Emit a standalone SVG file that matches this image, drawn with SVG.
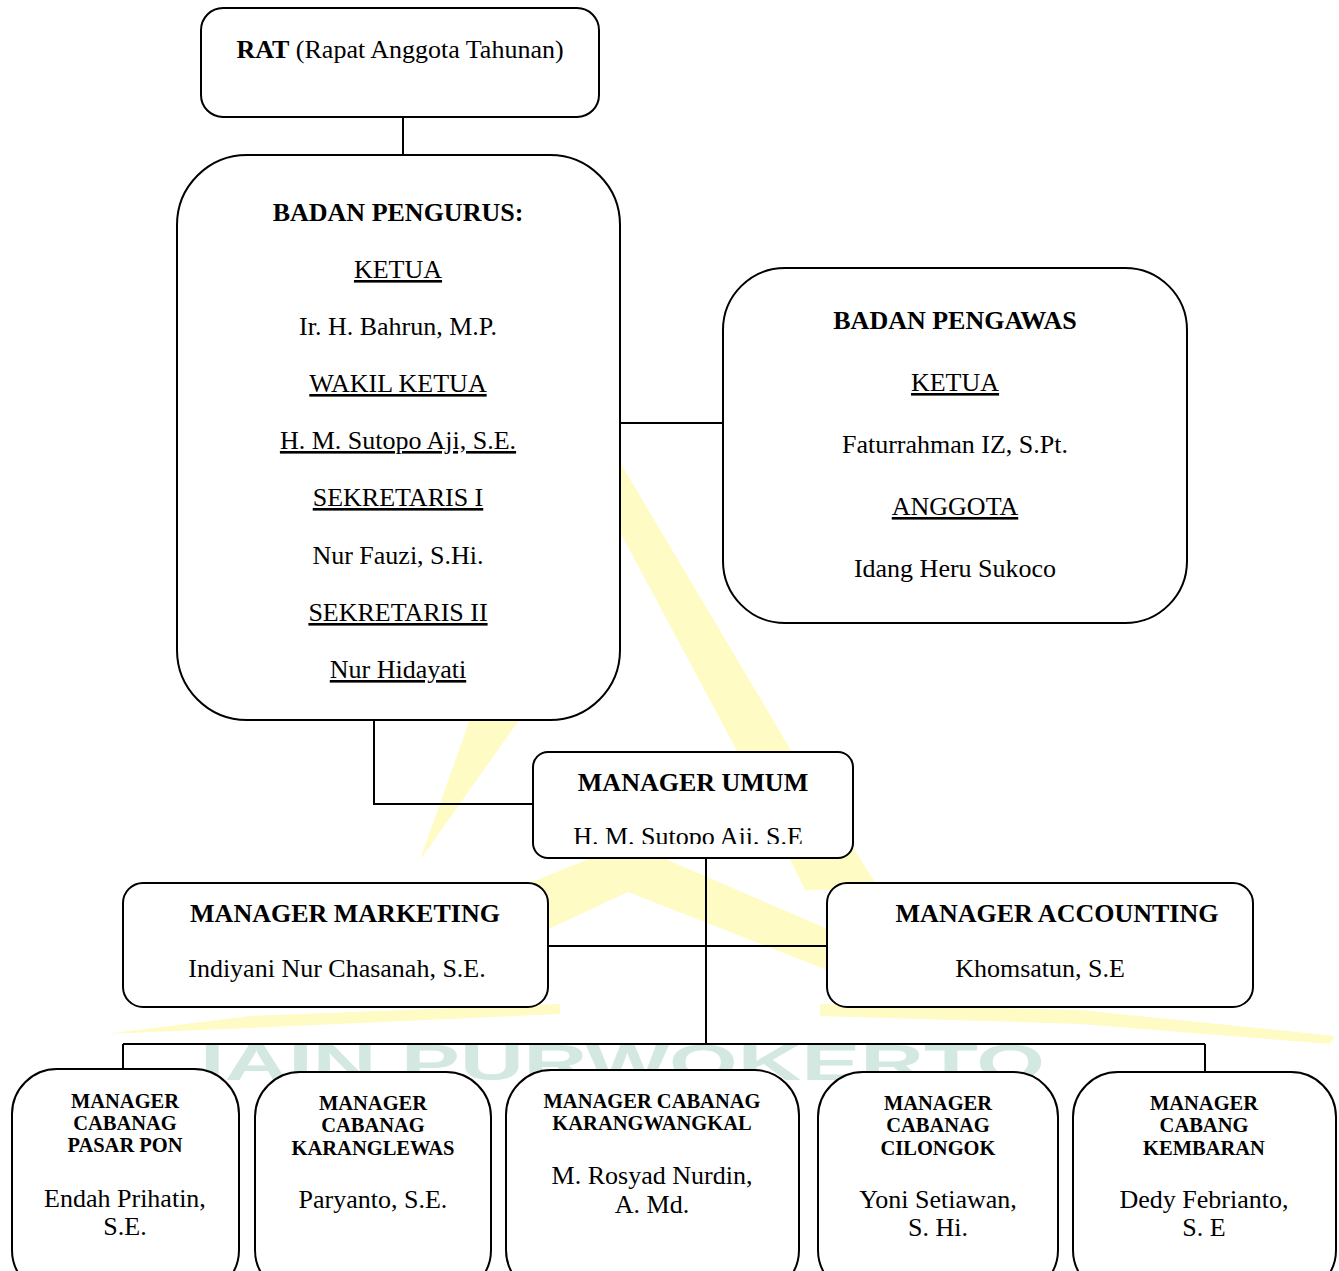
<svg xmlns="http://www.w3.org/2000/svg" width="1339" height="1271" viewBox="0 0 1339 1271">
<style>
.box{fill:#fff;stroke:#000;stroke-width:2}
.ln{fill:none;stroke:#000;stroke-width:2}
.t{font-family:"Liberation Serif","Times New Roman",serif;font-size:26px;text-anchor:middle;fill:#000}
.b{font-weight:bold}
.u{text-decoration:underline}
.s{font-size:20.5px;font-weight:bold}
.wm{fill:#fffbc4}
.wt{font-family:"Liberation Sans",Arial,sans-serif;font-weight:bold;font-size:50px;fill:#d3e8e0}
</style>
<defs>
<clipPath id="umumClip"><rect x="533" y="752" width="320" height="92"/></clipPath>
</defs>
<rect width="1339" height="1271" fill="#fff"/>
<g id="watermark">
<polygon class="wm" points="560,420 595,420 789,747 880,890 805,890 735,747"/>
<polygon class="wm" points="505,620 590,620 420,860"/>
<polygon class="wm" points="340,960 628,843 900,960 840,975 628,892 450,975"/>
<polygon class="wm" points="105,1034 250,1016 560,1004 560,1014 250,1028"/>
<polygon class="wm" points="820,1004 1080,1010 1335,1036 1330,1044 1080,1024 820,1016"/>
<text class="wt" x="200" y="1080" textLength="845" lengthAdjust="spacingAndGlyphs">IAIN PURWOKERTO</text>
</g>
<g id="connectors">
<path class="ln" d="M403 117V155"/>
<path class="ln" d="M620 423H723"/>
<path class="ln" d="M374 720V804H533"/>
<path class="ln" d="M706 858V1044"/>
<path class="ln" d="M548 946H827"/>
<path class="ln" d="M123 1044H1205"/>
<path class="ln" d="M123 1044V1070"/>
<path class="ln" d="M1205 1044V1072"/>
</g>
<g id="rat">
<rect class="box" x="201" y="8" width="398" height="109" rx="22"/>
<text class="t" x="400" y="58"><tspan class="b">RAT</tspan> (Rapat Anggota Tahunan)</text>
</g>
<g id="badan-pengurus">
<rect class="box" x="177" y="155" width="443" height="565" rx="70"/>
<text class="t b" x="398" y="221">BADAN PENGURUS:</text>
<text class="t u" x="398" y="278">KETUA</text>
<text class="t" x="398" y="335">Ir. H. Bahrun, M.P.</text>
<text class="t u" x="398" y="392">WAKIL KETUA</text>
<text class="t u" x="398" y="449">H. M. Sutopo Aji, S.E.</text>
<text class="t u" x="398" y="506">SEKRETARIS I</text>
<text class="t" x="398" y="564">Nur Fauzi, S.Hi.</text>
<text class="t u" x="398" y="621">SEKRETARIS II</text>
<text class="t u" x="398" y="678">Nur Hidayati</text>
</g>
<g id="badan-pengawas">
<rect class="box" x="723" y="268" width="464" height="355" rx="62"/>
<text class="t b" x="955" y="329">BADAN PENGAWAS</text>
<text class="t u" x="955" y="391">KETUA</text>
<text class="t" x="955" y="453">Faturrahman IZ, S.Pt.</text>
<text class="t u" x="955" y="515">ANGGOTA</text>
<text class="t" x="955" y="577">Idang Heru Sukoco</text>
</g>
<g id="manager-umum">
<rect class="box" x="533" y="752" width="320" height="106" rx="15"/>
<text class="t b" x="693" y="791">MANAGER UMUM</text>
<text class="t" x="688" y="845" clip-path="url(#umumClip)">H. M. Sutopo Aji, S.E</text>
</g>
<g id="manager-marketing">
<rect class="box" x="123" y="883" width="425" height="124" rx="20"/>
<text class="t b" x="345" y="922">MANAGER MARKETING</text>
<text class="t" x="337" y="977">Indiyani Nur Chasanah, S.E.</text>
</g>
<g id="manager-accounting">
<rect class="box" x="827" y="883" width="426" height="124" rx="20"/>
<text class="t b" x="1057" y="922">MANAGER ACCOUNTING</text>
<text class="t" x="1040" y="977">Khomsatun, S.E</text>
</g>
<g id="cabang-pasar-pon">
<rect class="box" x="12" y="1069" width="227" height="226" rx="45"/>
<text class="t s" x="125" y="1108">MANAGER</text>
<text class="t s" x="125" y="1130">CABANAG</text>
<text class="t s" x="125" y="1152">PASAR PON</text>
<text class="t" x="125" y="1207">Endah Prihatin,</text>
<text class="t" x="125" y="1235">S.E.</text>
</g>
<g id="cabang-karanglewas">
<rect class="box" x="255" y="1072" width="236" height="223" rx="45"/>
<text class="t s" x="373" y="1110">MANAGER</text>
<text class="t s" x="373" y="1132">CABANAG</text>
<text class="t s" x="373" y="1155">KARANGLEWAS</text>
<text class="t" x="373" y="1208">Paryanto, S.E.</text>
</g>
<g id="cabang-karangwangkal">
<rect class="box" x="506" y="1070" width="293" height="225" rx="45"/>
<text class="t s" x="652" y="1108">MANAGER CABANAG</text>
<text class="t s" x="652" y="1130">KARANGWANGKAL</text>
<text class="t" x="652" y="1184">M. Rosyad Nurdin,</text>
<text class="t" x="652" y="1213">A. Md.</text>
</g>
<g id="cabang-cilongok">
<rect class="box" x="818" y="1072" width="240" height="223" rx="45"/>
<text class="t s" x="938" y="1110">MANAGER</text>
<text class="t s" x="938" y="1132">CABANAG</text>
<text class="t s" x="938" y="1155">CILONGOK</text>
<text class="t" x="938" y="1208">Yoni Setiawan,</text>
<text class="t" x="938" y="1236">S. Hi.</text>
</g>
<g id="cabang-kembaran">
<rect class="box" x="1073" y="1072" width="263" height="223" rx="45"/>
<text class="t s" x="1204" y="1110">MANAGER</text>
<text class="t s" x="1204" y="1132">CABANG</text>
<text class="t s" x="1204" y="1155">KEMBARAN</text>
<text class="t" x="1204" y="1208">Dedy Febrianto,</text>
<text class="t" x="1204" y="1236">S. E</text>
</g>
</svg>
